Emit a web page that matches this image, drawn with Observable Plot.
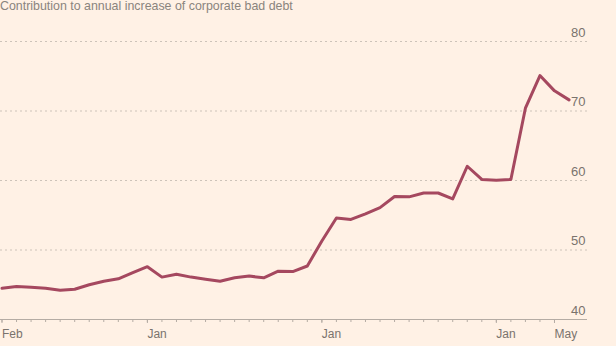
<!DOCTYPE html>
<html>
<head>
<meta charset="utf-8">
<script src="https://cdn.jsdelivr.net/npm/d3@7"></script>
<script src="https://cdn.jsdelivr.net/npm/@observablehq/plot@0.6"></script>
<style>
  html, body { margin: 0; padding: 0; background: #fff1e5; width: 616px; height: 346px; overflow: hidden; }
  #title { font-family: "Liberation Sans", Arial, sans-serif; font-size: 12.4px; line-height: 13px; height: 13px; color: #8a847e; margin-top: 0; white-space: nowrap; }
  #chart svg { display: block; }
</style>
</head>
<body>
<div id="title">Contribution to annual increase of corporate bad debt</div>
<div id="chart"></div>
<script>
// Monthly values (index 0 = first month shown)
const values = [
  44.5, 44.75, 44.65, 44.5, 44.2, 44.35, 45.0, 45.5, 45.85, 46.75,
  47.6, 46.1, 46.5, 46.1, 45.8, 45.5, 46.0, 46.25, 46.0, 46.95,
  46.9, 47.7, 51.3, 54.6, 54.4, 55.2, 56.1, 57.7, 57.65, 58.2,
  58.2, 57.35, 62.05, 60.15, 60.05, 60.15, 70.4, 75.1, 72.9, 71.6
];
// Labelled ticks (month index) and their labels
const labelTicks = [0, 10, 22, 34, 38];
const tickLabels = ["Feb", "Jan", "Jan", "Jan", "May"];
// Minor monthly ticks
const minorTicks = d3.range(0, 39);
// Y-axis ticks
const yTicks = [40, 50, 60, 70, 80];

const data = values.map((v, i) => ({i, v}));
const labelMap = new Map(labelTicks.map((t, k) => [t, tickLabels[k]]));

const chart = Plot.plot({
  width: 616,
  height: 333,
  marginLeft: 0,
  marginRight: 29,
  marginTop: 28,
  marginBottom: 27,
  style: { background: "transparent", fontFamily: "Liberation Sans, Arial, sans-serif", color: "#6e6862" },
  x: { type: "linear", domain: [-0.103, 40.27] },
  y: { domain: [40, 80] },
  marks: [
    Plot.gridY(yTicks.filter(t => t > 40), { stroke: "#cdc3b9", strokeOpacity: 1, strokeDasharray: "2,3", strokeWidth: 1 }),
    Plot.ruleY([40], { stroke: "#b5aca4", strokeWidth: 1 }),
    Plot.axisX(minorTicks, { tickSize: 3, tickFormat: () => "", stroke: "#b5aca4", label: null }),
    Plot.axisX(labelTicks, { tickSize: 4, tickPadding: 6, tickFormat: t => labelMap.get(t), textAnchor: "start", dx: 0, fontSize: 12, fill: "#7a736d", stroke: "#b5aca4", label: null }),
    Plot.axisY(yTicks, { anchor: "right", tickSize: 0, tickPadding: 0, dx: -2, dy: -5, textAnchor: "end", lineAnchor: "bottom", fontSize: 13, fill: "#7a736d", tickFormat: d => d, label: null }),
    Plot.line(data, { x: "i", y: "v", stroke: "#a5485f", strokeWidth: 3, strokeLinejoin: "round", strokeLinecap: "round" })
  ]
});
document.getElementById("chart").appendChild(chart);
</script>
</body>
</html>
